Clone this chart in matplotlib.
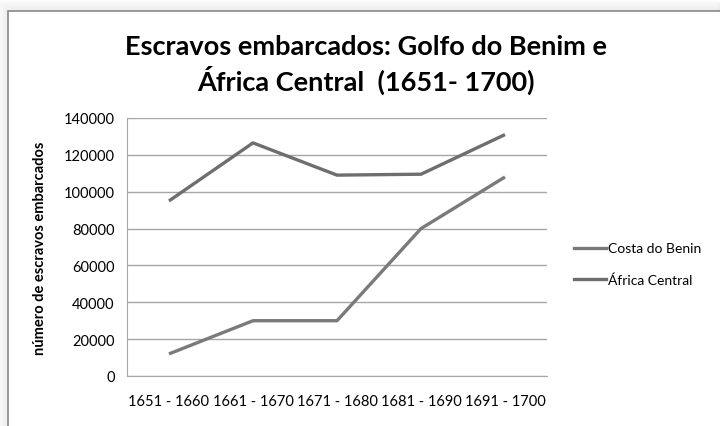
import matplotlib
matplotlib.use("Agg")
import matplotlib.pyplot as plt
from matplotlib.lines import Line2D
import numpy as np

categories = ["1651 - 1660", "1661 - 1670", "1671 - 1680", "1681 - 1690", "1691 - 1700"]
costa_do_benin = [12000, 30000, 30000, 80000, 108000]
africa_central = [95000, 126500, 109000, 109500, 131000]
yticks = [0, 20000, 40000, 60000, 80000, 100000, 120000, 140000]

FONT = "Lato"
W, H = 720, 427
fig = plt.figure(figsize=(W / 100, H / 100), dpi=100)
fig.patch.set_facecolor("white")

# shadow / frame
bg = fig.add_axes([0, 0, 1, 1], zorder=-10)
bg.set_xlim(0, W)
bg.set_ylim(H, 0)
bg.axis("off")
for i in range(12):
    a = 0.035 * (12 - i) / 12 * 2.2
    bg.add_patch(plt.Rectangle((8 - i, 12 - i), W, H, facecolor="none",
                               edgecolor=(0.3, 0.3, 0.3, a), lw=1))
bg.add_patch(plt.Rectangle((8, 12), W, H, facecolor="white",
                           edgecolor="#888888", lw=1.2))

ax = fig.add_axes([127 / W, 1 - 377 / H, 420 / W, 258 / H])
x = np.arange(len(categories))
ax.plot(x, costa_do_benin, color="#7a7a7a", lw=2.4, label="Costa do Benin",
        solid_capstyle="butt")
ax.plot(x, africa_central, color="#6e6e6e", lw=2.4, label="África Central",
        solid_capstyle="butt")
ax.set_xlim(-0.5, len(categories) - 0.5)
ax.set_ylim(0, 140000)
ax.set_yticks(yticks)
ax.set_yticklabels([str(v) for v in yticks], fontfamily=FONT, fontsize=10.5)
ax.set_xticks(x)
ax.set_xticklabels(categories, fontfamily=FONT, fontsize=10.5)
ax.tick_params(axis="both", length=0, pad=9)
ax.tick_params(axis="x", pad=13)
ax.grid(axis="y", color="#a6a6a6", lw=1)
ax.set_axisbelow(True)
for s in ["top", "right"]:
    ax.spines[s].set_visible(False)
ax.spines["left"].set_color("#a6a6a6")
ax.spines["bottom"].set_color("#a6a6a6")
ax.set_ylabel("número de escravos embarcados", fontfamily=FONT, fontsize=10.5,
              fontweight="bold", labelpad=12)

fig.text(366 / W, 1 - 47 / H, "Escravos embarcados: Golfo do Benim e",
         ha="center", va="center", fontfamily=FONT, fontweight="bold", fontsize=19.5)
fig.text(366 / W, 1 - 80 / H, "África Central  (1651- 1700)",
         ha="center", va="center", fontfamily=FONT, fontweight="bold", fontsize=19.5)

handles = [Line2D([], [], color="#7a7a7a", lw=2.4),
           Line2D([], [], color="#6e6e6e", lw=2.4)]
fig.legend(handles, ["Costa do Benin", "África Central"],
           loc="center left", bbox_to_anchor=(564 / W, 1 - 265 / H),
           frameon=False, prop={"family": FONT, "size": 10},
           handlelength=2.3, handletextpad=0.15, labelspacing=1.35,
           borderpad=0.2)

fig.savefig("out.png", dpi=100)
